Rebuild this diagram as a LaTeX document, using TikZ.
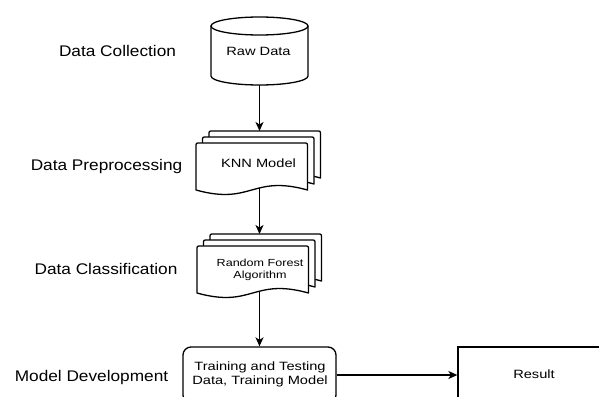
\documentclass[tikz,border=0pt]{standalone}
\usepackage{fontspec}
\setmainfont{Liberation Sans}
\newfontfamily\labfont[FakeStretch=1.12]{Liberation Sans}
\newfontfamily\boxfont[FakeStretch=1.22]{Liberation Sans}
\usetikzlibrary{arrows.meta}
\newcommand\docshape[3]{% #1 left x, #2 top y, #3 wave end y
  \draw[docline] (#1,#2+4) .. controls (#1,#2) .. (#1+4,#2) -- (#1+107.5,#2)
    .. controls (#1+111.5,#2) .. (#1+111.5,#2+4) -- (#1+111.5,#3)
    .. controls (#1+55.75,#3-15.5) and (#1+55.75,#3+15.5) .. (#1,#3) -- cycle;}
\begin{document}
\begin{tikzpicture}[x=1pt,y=-1pt,
  docline/.style={draw=black,fill=white,line width=1.3pt,line join=round},
  lab/.style={font=\labfont\fontsize{15.4}{18}\selectfont,anchor=base,inner sep=0pt},
  boxtxt/.style={font=\boxfont\fontsize{12}{13.3}\selectfont,inner sep=0pt,align=center},
  smalltxt/.style={font=\boxfont\fontsize{10.3}{12.6}\selectfont,inner sep=0pt,align=center},
  flow/.style={draw=black,line width=1.3pt,-{Stealth[length=9pt,width=8pt,inset=2.5pt]}},
  procbox/.style={draw=black,line width=1.3pt,fill=white,minimum width=153pt,minimum height=56pt}]
\useasboundingbox (0,0) rectangle (599,396);
\begin{scope}
\clip (0,0) rectangle (599,396);
% labels
\node[lab] (l1) at (117.5,56.7) {Data Collection};
\node[lab] (l2) at (106.5,170.3) {Data Preprocessing};
\node[lab] (l3) at (106,274.3) {Data Classification};
\node[lab] (l4) at (91.5,381.7) {Model Development};
% cylinder
\path[docline] (211,26) -- (211,76)
  .. controls (211,80.97) and (232.71,85) .. (259.5,85)
  .. controls (286.29,85) and (308,80.97) .. (308,76) -- (308,26) -- cycle;
\draw[docline] (259.5,26) ellipse [x radius=48.5pt, y radius=9pt];
\node[boxtxt,anchor=base] (raw) at (258.5,56) {Raw Data};
\coordinate (rawbot) at (259.5,85);
% KNN stacked documents
\docshape{209}{131}{178}
\docshape{202.5}{137}{184}
\docshape{196}{143}{190}
\node[boxtxt,anchor=base] (knn) at (258.5,167.3) {KNN Model};
\coordinate (knntop) at (259.5,131);
\coordinate (knnbot) at (259.5,188);
% RF stacked documents
\docshape{210}{234}{281}
\docshape{203.5}{240}{287}
\docshape{197}{246}{293}
\node[smalltxt] (rf) at (260,270) {Random Forest\\Algorithm};
\coordinate (rftop) at (259.5,234);
\coordinate (rfbot) at (259.5,291);
% bottom boxes
\node[procbox,rounded corners=8pt] (train) at (259.5,375) {};
\node[boxtxt] (traintxt) at (260,374.5) {Training and Testing\\Data, Training Model};
\node[procbox,minimum width=152pt] (result) at (534,375) {};
\node[boxtxt,anchor=base] (restxt) at (534,378.3) {Result};
% connectors
\draw[flow] (rawbot) -- (knntop);
\draw[flow] (knnbot) -- (rftop);
\draw[flow] (rfbot) -- (train.north);
\draw[flow] (train.east) -- (result.west);
\end{scope}
\end{tikzpicture}
\end{document}
